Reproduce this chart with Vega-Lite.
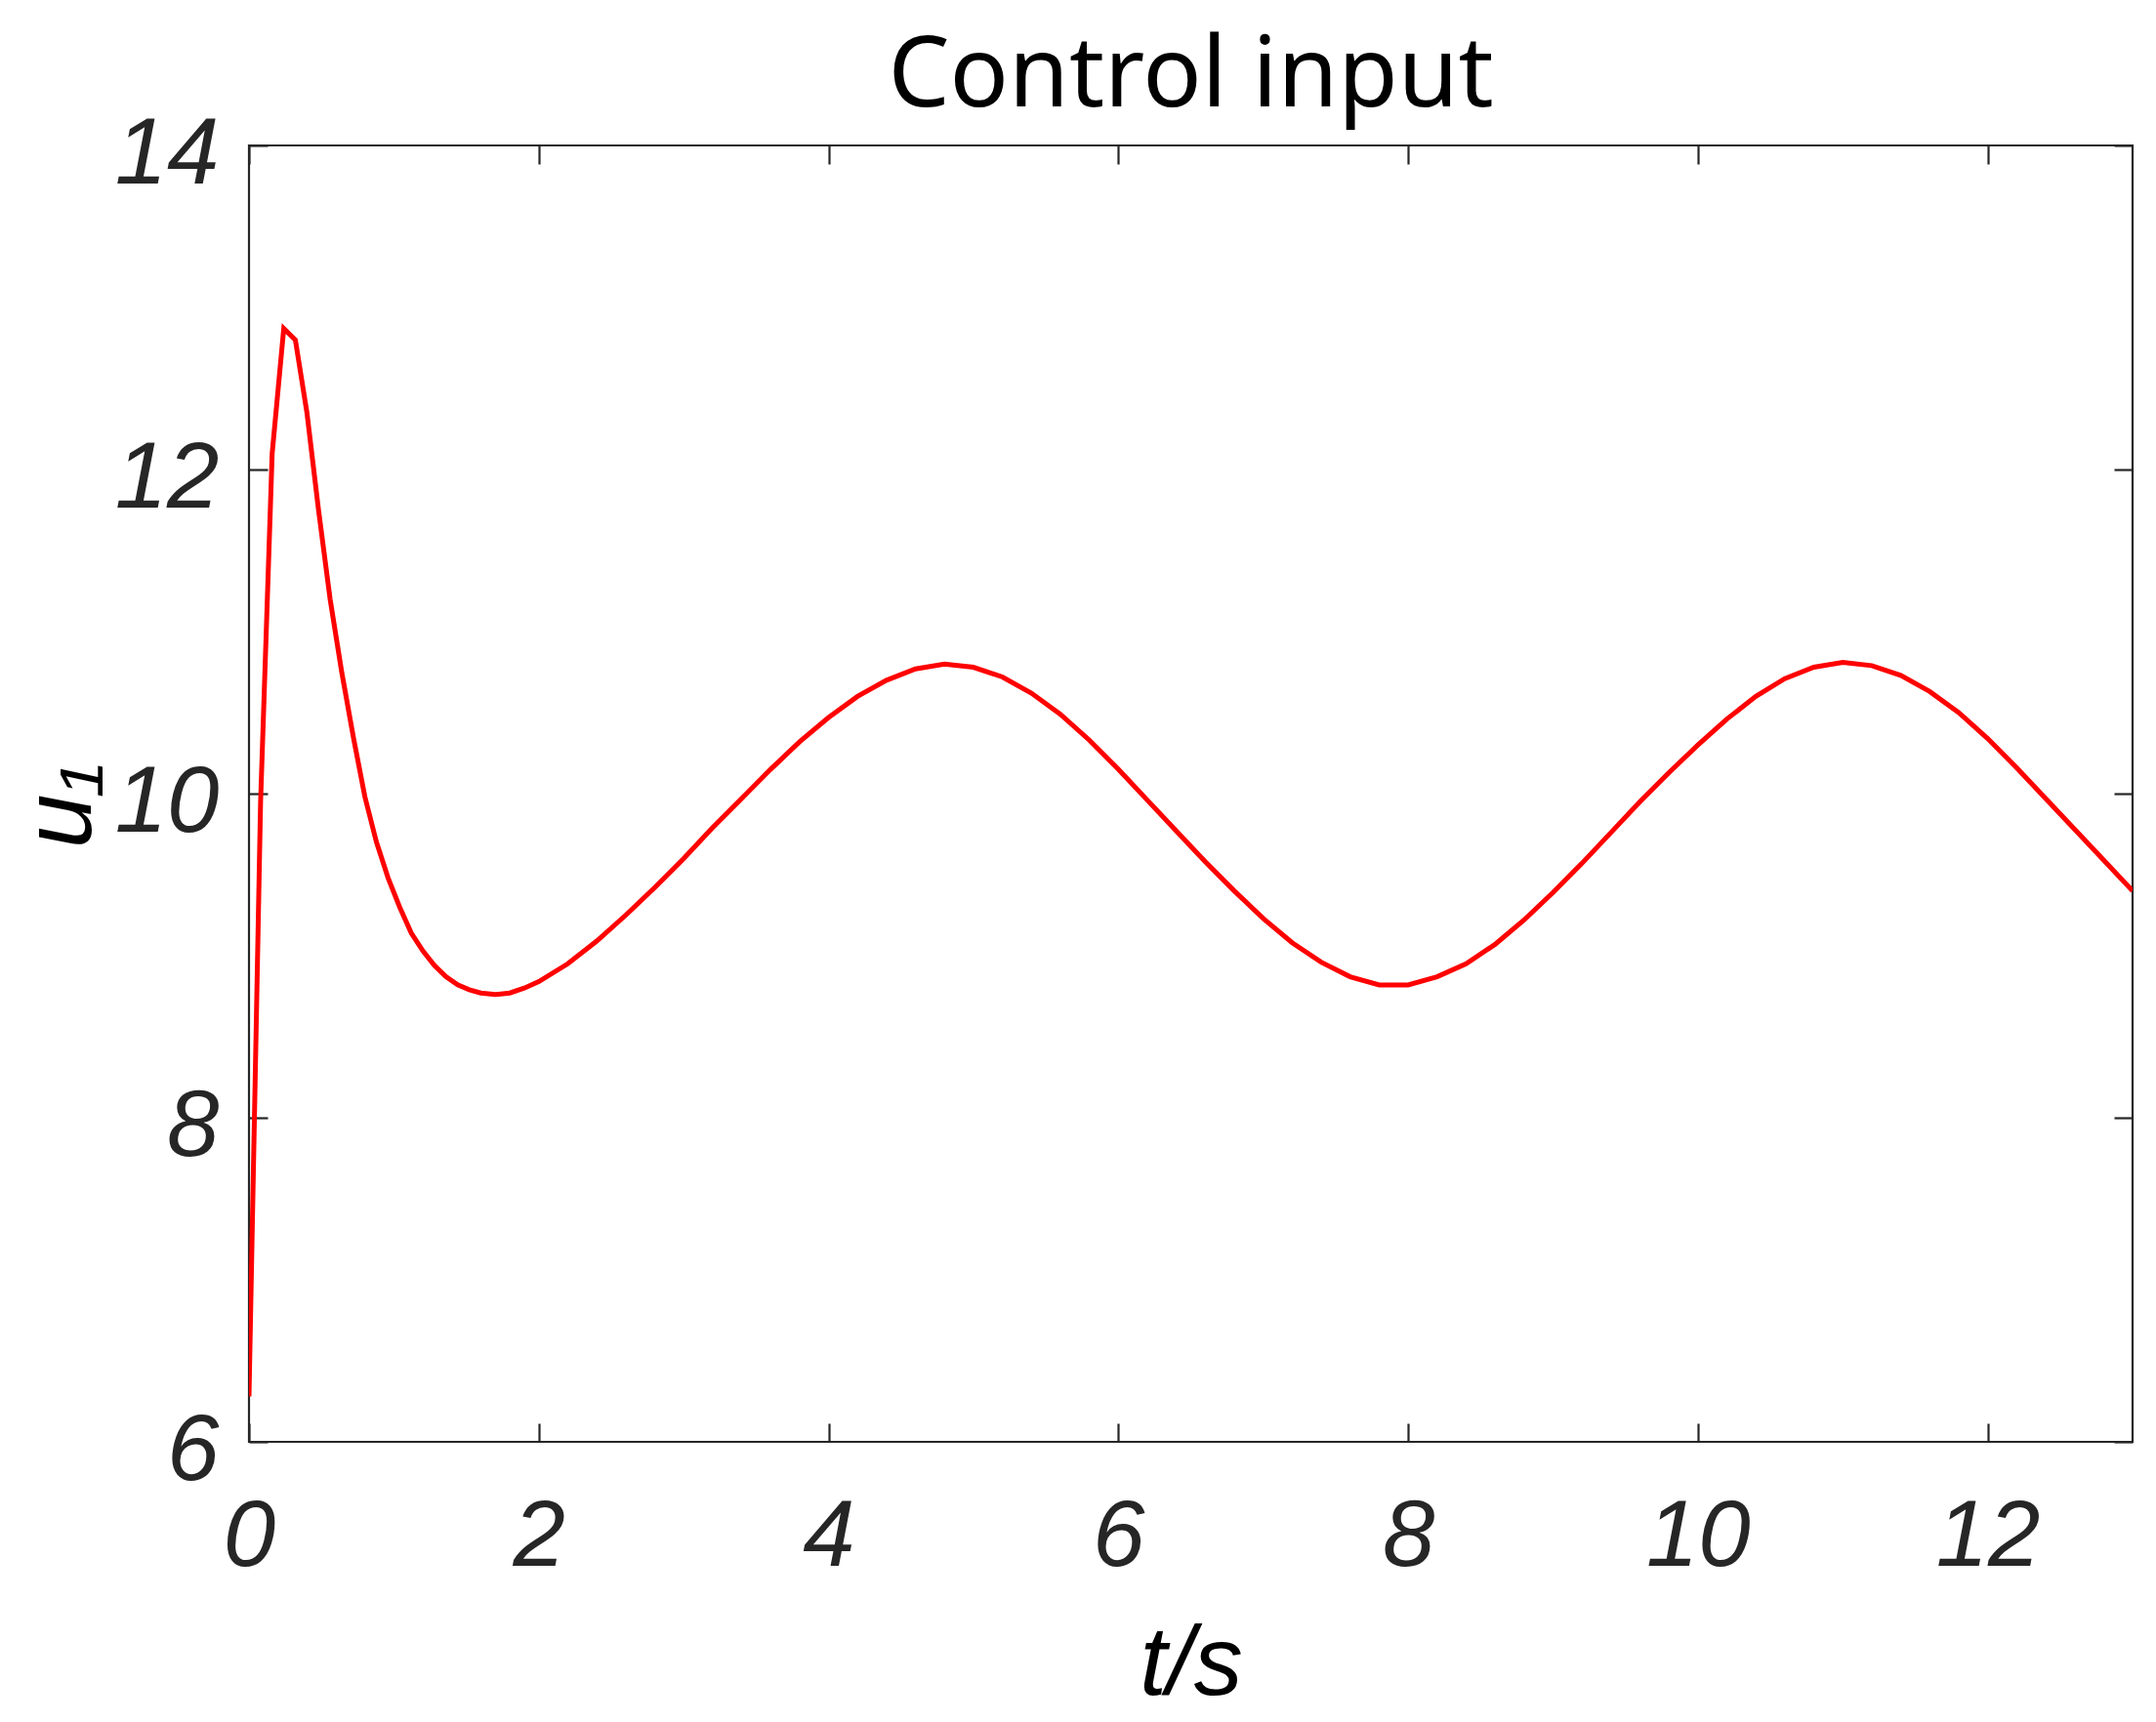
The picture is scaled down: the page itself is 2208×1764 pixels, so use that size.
{
  "$schema": "https://vega.github.io/schema/vega-lite/v6.json",
  "autosize": "none",
  "width": 1929,
  "height": 1328,
  "padding": {"left": 255, "top": 149, "right": 24, "bottom": 287},
  "background": "white",
  "title": {
    "text": "Control input",
    "font": "Noto Sans",
    "fontSize": 100,
    "fontWeight": "normal",
    "color": "#000000",
    "anchor": "middle",
    "offset": -20
  },
  "config": {
    "view": {"stroke": "#262626", "strokeWidth": 2.2},
    "axis": {
      "grid": false,
      "domain": false,
      "tickSize": -19,
      "tickWidth": 2.2,
      "tickColor": "#262626",
      "labelFont": "Liberation Sans",
      "labelFontStyle": "italic",
      "labelFontSize": 96,
      "labelColor": "#262626",
      "titleFont": "Liberation Sans",
      "titleFontStyle": "italic",
      "titleFontWeight": "normal",
      "titleFontSize": 100,
      "titleColor": "#000000"
    }
  },
  "data": {
    "values": [
      {"t": 0, "u": 6.28}, {"t": 0.08, "u": 9.95}, {"t": 0.16, "u": 12.1}, {"t": 0.24, "u": 12.87},
      {"t": 0.32, "u": 12.8}, {"t": 0.4, "u": 12.35}, {"t": 0.48, "u": 11.75}, {"t": 0.56, "u": 11.2},
      {"t": 0.64, "u": 10.75}, {"t": 0.72, "u": 10.35}, {"t": 0.8, "u": 9.98}, {"t": 0.88, "u": 9.7},
      {"t": 0.96, "u": 9.48}, {"t": 1.04, "u": 9.3}, {"t": 1.12, "u": 9.14}, {"t": 1.2, "u": 9.03},
      {"t": 1.28, "u": 8.94}, {"t": 1.36, "u": 8.87}, {"t": 1.44, "u": 8.82}, {"t": 1.52, "u": 8.79},
      {"t": 1.6, "u": 8.77}, {"t": 1.7, "u": 8.76}, {"t": 1.8, "u": 8.77}, {"t": 1.9, "u": 8.8},
      {"t": 2.0, "u": 8.84}, {"t": 2.2, "u": 8.95}, {"t": 2.4, "u": 9.09}, {"t": 2.6, "u": 9.25},
      {"t": 2.8, "u": 9.42}, {"t": 3.0, "u": 9.6}, {"t": 3.2, "u": 9.79}, {"t": 3.4, "u": 9.97},
      {"t": 3.6, "u": 10.15}, {"t": 3.8, "u": 10.32}, {"t": 4.0, "u": 10.47}, {"t": 4.2, "u": 10.6},
      {"t": 4.4, "u": 10.7}, {"t": 4.6, "u": 10.77}, {"t": 4.8, "u": 10.8}, {"t": 5.0, "u": 10.78},
      {"t": 5.2, "u": 10.72}, {"t": 5.4, "u": 10.62}, {"t": 5.6, "u": 10.49}, {"t": 5.8, "u": 10.33},
      {"t": 6.0, "u": 10.15}, {"t": 6.2, "u": 9.96}, {"t": 6.4, "u": 9.77}, {"t": 6.6, "u": 9.58},
      {"t": 6.8, "u": 9.4}, {"t": 7.0, "u": 9.23}, {"t": 7.2, "u": 9.08}, {"t": 7.4, "u": 8.96},
      {"t": 7.6, "u": 8.87}, {"t": 7.8, "u": 8.82}, {"t": 8.0, "u": 8.82}, {"t": 8.2, "u": 8.87},
      {"t": 8.4, "u": 8.95}, {"t": 8.6, "u": 9.07}, {"t": 8.8, "u": 9.22}, {"t": 9.0, "u": 9.39},
      {"t": 9.2, "u": 9.57}, {"t": 9.4, "u": 9.76}, {"t": 9.6, "u": 9.95}, {"t": 9.8, "u": 10.13},
      {"t": 10.0, "u": 10.3}, {"t": 10.2, "u": 10.46}, {"t": 10.4, "u": 10.6}, {"t": 10.6, "u": 10.71},
      {"t": 10.8, "u": 10.78}, {"t": 11.0, "u": 10.81}, {"t": 11.2, "u": 10.79}, {"t": 11.4, "u": 10.73},
      {"t": 11.6, "u": 10.63}, {"t": 11.8, "u": 10.5}, {"t": 12.0, "u": 10.34}, {"t": 12.2, "u": 10.16},
      {"t": 12.4, "u": 9.97}, {"t": 12.6, "u": 9.78}, {"t": 12.8, "u": 9.59}, {"t": 13.0, "u": 9.4}
    ]
  },
  "layer": [
    {
      "mark": {"type": "line", "color": "#ff0000", "strokeWidth": 5, "clip": true},
      "encoding": {
        "x": {
          "field": "t", "type": "quantitative",
          "scale": {"domain": [0, 13], "nice": false, "zero": false},
          "axis": {
            "orient": "bottom", "values": [0, 2, 4, 6, 8, 10, 12], "format": "d",
            "labelPadding": 69, "labelBaseline": "top", "labelFlush": false,
            "title": "t/s", "titleY": 258, "titleBaseline": "alphabetic", "titleAnchor": "middle"
          }
        },
        "y": {
          "field": "u", "type": "quantitative",
          "scale": {"domain": [6, 14], "nice": false, "zero": false},
          "axis": {
            "orient": "left", "values": [6, 8, 10, 12, 14], "format": "d",
            "labelPadding": 50, "labelFlush": false, "labelOffset": 9,
            "title": "u₁", "titleX": -163, "titleY": 676, "titleAngle": -90,
            "titleBaseline": "alphabetic", "titleAlign": "center", "titleAnchor": null
          }
        }
      }
    },
    {
      "mark": {"type": "line", "opacity": 0},
      "encoding": {
        "x": {
          "field": "t", "type": "quantitative",
          "axis": {"orient": "top", "values": [0, 2, 4, 6, 8, 10, 12], "labels": false, "title": null}
        },
        "y": {
          "field": "u", "type": "quantitative",
          "axis": {"orient": "right", "values": [6, 8, 10, 12, 14], "labels": false, "title": null}
        }
      }
    }
  ],
  "resolve": {"axis": {"x": "independent", "y": "independent"}}
}
